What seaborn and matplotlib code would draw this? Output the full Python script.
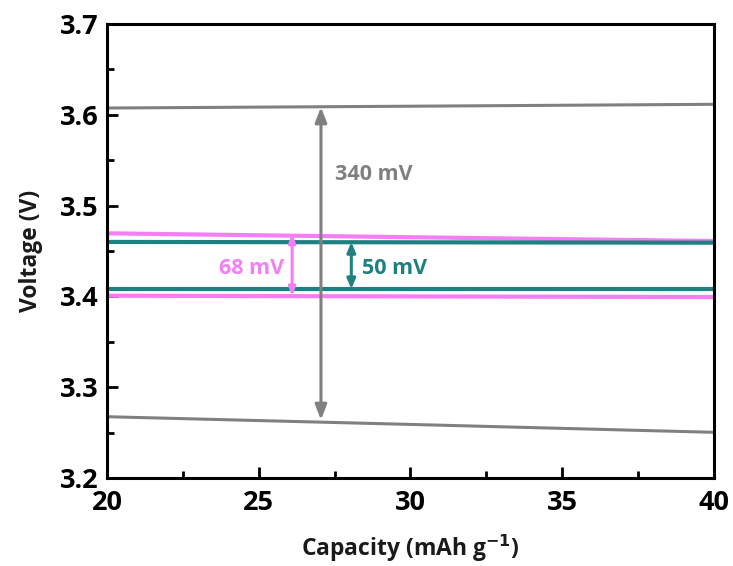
import pandas as pd
import matplotlib
matplotlib.use("Agg")
import matplotlib.pyplot as plt
import seaborn as sns
from matplotlib.ticker import MultipleLocator

# Voltage plateaus (start / middle / end of the window)
capacity = [20, 30, 40]
gray_charge = [3.6075, 3.6095, 3.6116]
gray_discharge = [3.2675, 3.2590, 3.2503]
pink_charge = [3.4695, 3.4652, 3.4610]
pink_discharge = [3.4008, 3.4000, 3.3993]
teal_charge = [3.4600, 3.4596, 3.4592]
teal_discharge = [3.4080, 3.4080, 3.4080]

# Polarization gaps: (x position, low, high, label)
gap_x = [27.05, 26.1, 28.05]
gap_low = [3.2640, 3.4005, 3.4080]
gap_high = [3.6085, 3.4690, 3.4600]
gap_labels = ["340 mV", "68 mV", "50 mV"]

gray = "#808080"
pink = "#F47FF4"
teal = "#1E8080"

sns.set_style("ticks")
plt.rcParams['font.family'] = ['Open Sans', 'DejaVu Sans']
plt.rcParams['font.weight'] = 'bold'

fig = plt.figure(figsize=(7.33, 5.66), dpi=100)
ax = fig.add_axes([0.146, 0.1555, 0.828, 0.802])

curves = [
    (gray_charge, gray, 2.2),
    (gray_discharge, gray, 2.2),
    (pink_charge, pink, 3),
    (pink_discharge, pink, 3),
    (teal_charge, teal, 3),
    (teal_discharge, teal, 3),
]
for volts, color, lw in curves:
    df = pd.DataFrame({'Capacity': capacity, 'Voltage': volts})
    sns.lineplot(data=df, x='Capacity', y='Voltage', color=color, lw=lw, ax=ax)

# Gap arrows
arrow_colors = [gray, pink, teal]
head = ["<|-|>,head_length=0.9,head_width=0.35",
        "<|-|>,head_length=0.5,head_width=0.2",
        "<|-|>,head_length=0.6,head_width=0.25"]
for x, lo, hi, c, h in zip(gap_x, gap_low, gap_high, arrow_colors, head):
    ax.annotate("", xy=(x, hi), xytext=(x, lo),
                arrowprops=dict(arrowstyle=h, color=c, lw=2.2,
                                shrinkA=0, shrinkB=0))

ax.text(27.5, 3.534, gap_labels[0], color=gray, fontsize=15.5, fontweight='bold',
        ha='left', va='center')
ax.text(25.85, 3.431, gap_labels[1], color=pink, fontsize=15.5, fontweight='bold',
        ha='right', va='center')
ax.text(28.4, 3.431, gap_labels[2], color=teal, fontsize=15.5, fontweight='bold',
        ha='left', va='center')

ax.set_xlim(20, 40)
ax.set_ylim(3.2, 3.7)
ax.xaxis.set_major_locator(MultipleLocator(5))
ax.xaxis.set_minor_locator(MultipleLocator(2.5))
ax.yaxis.set_major_locator(MultipleLocator(0.1))
ax.yaxis.set_minor_locator(MultipleLocator(0.05))
ax.yaxis.set_major_formatter(plt.FuncFormatter(lambda v, _: f'{v:.1f}'))
ax.tick_params(which='both', direction='in', width=2, top=False, right=False,
               labelsize=19.5, pad=6, colors='black')
ax.tick_params(axis='x', which='major', pad=9)
ax.tick_params(which='major', length=8)
ax.tick_params(which='minor', length=5)
for lab in ax.get_xticklabels() + ax.get_yticklabels():
    lab.set_fontweight('bold')
for s in ax.spines.values():
    s.set_linewidth(2.2)
    s.set_color('black')

ax.set_xlabel('Capacity (mAh g$^{\\mathbf{-1}}$)', fontsize=16.5, fontweight='bold',
              labelpad=12, color='#1a1a1a')
ax.set_ylabel('Voltage (V)', fontsize=16.5, fontweight='bold', labelpad=12,
              color='#1a1a1a')

fig.savefig('out.png', dpi=100)
